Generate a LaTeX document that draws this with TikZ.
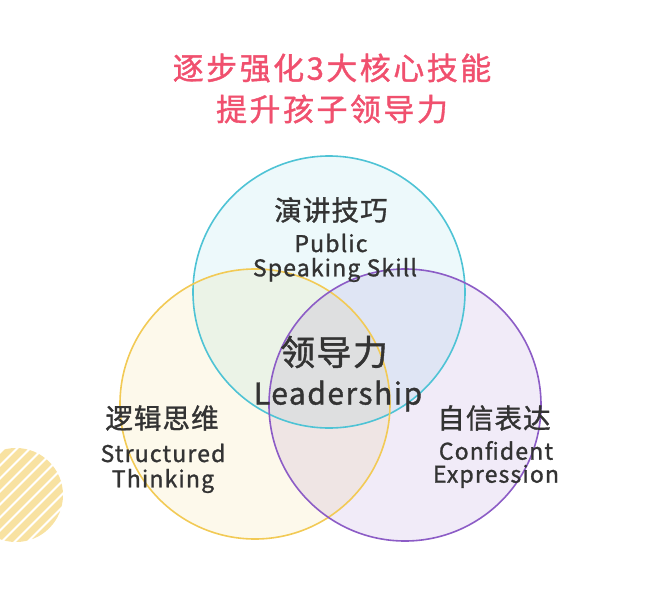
\documentclass[tikz,border=0pt]{standalone}
\usepackage{fontspec}
\setmainfont{Noto Sans CJK SC}[FakeBold=1.2]
\newfontfamily\latinfont{Noto Sans CJK SC}[LetterSpace=5,FakeBold=1.2]
\newfontfamily\zhfont{Noto Sans CJK SC}[LetterSpace=4,FakeBold=1.2]
\definecolor{titlepink}{HTML}{F0506E}
\definecolor{txt}{HTML}{333333}
\definecolor{ccyan}{HTML}{4EC3D5}
\definecolor{cyellow}{HTML}{F2CA55}
\definecolor{cpurple}{HTML}{8C5CC6}
\definecolor{stripe}{HTML}{F8E2A2}
\begin{document}
\begin{tikzpicture}[x=1pt,y=-1pt,
  ring/.style={line width=1.6pt},
  zh/.style={font=\zhfont\fontsize{27.5}{30}\selectfont, text=txt, inner sep=0pt},
  en/.style={font=\latinfont\fontsize{23}{26}\selectfont, text=txt, inner sep=0pt, align=center},
  ttl/.style={font=\zhfont\fontsize{31}{34}\selectfont\addfontfeatures{LetterSpace=8}, text=titlepink, inner sep=0pt}]
\useasboundingbox (0,0) rectangle (670,592);
% striped decoration
\begin{scope}
  \clip (16,495) circle (47);
  \foreach \k in {-12,...,12} {
    \draw[stripe, line width=7pt] (16+\k*13-80,495+80) -- (16+\k*13+80,495-80);
  }
\end{scope}
% circles
\begin{scope}[blend group=multiply]
  \fill[ccyan!10] (329,292) circle (136);
  \fill[cyellow!12] (255,404) circle (135);
  \fill[cpurple!12] (405,405) circle (136);
\end{scope}
\draw[ring, ccyan] (329,292) circle (136);
\draw[ring, cyellow] (255,404) circle (135);
\draw[ring, cpurple] (405,405) circle (136);
% title
\node[ttl] (t1) at (332,68) {逐步强化3大核心技能};
\node[ttl] (t2) at (332,109) {提升孩子领导力};
% labels
\node[zh] (sp) at (331,210) {演讲技巧};
\node[en] (sp1) at (331,243) {Public};
\node[en] (sp2) at (335,270) {Speaking Skill};
\node[zh, font=\zhfont\fontsize{35}{38}\selectfont] (ld) at (334,352) {领导力};
\node[en, font=\latinfont\fontsize{30}{34}\selectfont] (ld1) at (338,396) {Leadership};
\node[zh] (lg) at (162,418) {逻辑思维};
\node[en] (lg1) at (163,453) {Structured};
\node[en] (lg2) at (163,481) {Thinking};
\node[zh] (cf) at (494,418) {自信表达};
\node[en, font=\latinfont\fontsize{23}{23}\selectfont] (cf1) at (496,464.5) {Confident\\Expression};
\end{tikzpicture}
\end{document}
